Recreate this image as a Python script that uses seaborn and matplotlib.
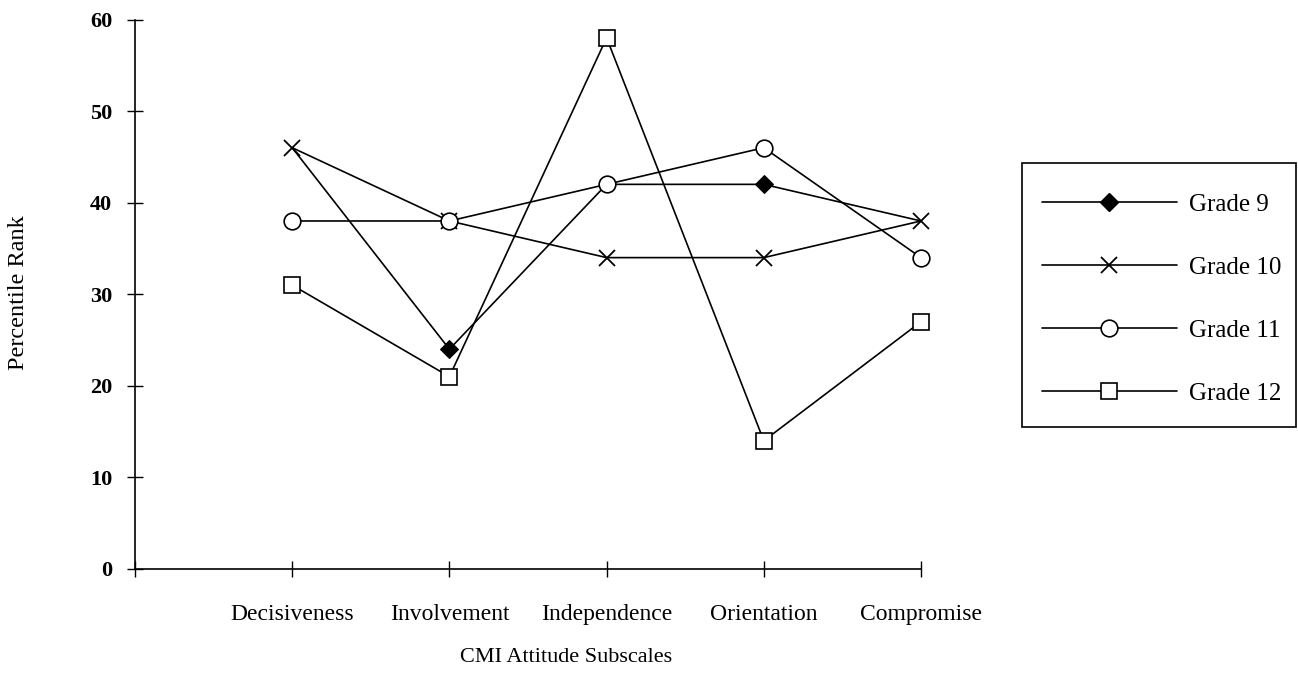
import numpy as np
import pandas as pd
import matplotlib
matplotlib.use("Agg")
import matplotlib.pyplot as plt
from matplotlib.lines import Line2D
from matplotlib.patches import Rectangle
import seaborn as sns

categories = ["Decisiveness", "Involvement", "Independence", "Orientation", "Compromise"]
grade9 = [46, 24, 42, 42, 38]
grade10 = [46, 38, 34, 34, 38]
grade11 = [38, 38, 42, 46, 34]
grade12 = [31, 21, 58, 14, 27]
series_names = ["Grade 9", "Grade 10", "Grade 11", "Grade 12"]
y_ticks = [0, 10, 20, 30, 40, 50, 60]

sns.set_theme(style="white")
plt.rcParams["font.family"] = ["Liberation Serif", "DejaVu Serif"]

W, H = 1298, 679
fig = plt.figure(figsize=(W / 100, H / 100), dpi=100)
ax = fig.add_axes([135 / W, 1 - 569 / H, (921 - 135) / W, (569 - 19.5) / H])

xpos = np.arange(1, len(categories) + 1)
styles = {
    "Grade 9": dict(marker="D", markersize=9, markerfacecolor="black", markeredgecolor="black", markevery=[1, 3]),
    "Grade 10": dict(marker="x", markersize=12, markeredgewidth=1.3, markeredgecolor="black"),
    "Grade 11": dict(marker="o", markersize=12, markerfacecolor="white", markeredgecolor="black", markeredgewidth=1.2),
    "Grade 12": dict(marker="s", markersize=11, markerfacecolor="white", markeredgecolor="black", markeredgewidth=1.2),
}
data = {"Grade 9": grade9, "Grade 10": grade10, "Grade 11": grade11, "Grade 12": grade12}
for name in series_names:
    df = pd.DataFrame({"x": xpos, "y": data[name]})
    sns.lineplot(data=df, x="x", y="y", ax=ax, color="black", linewidth=1.2,
                 clip_on=False, legend=False, **styles[name])

ax.set_xlim(0, len(categories))
ax.set_ylim(0, 60)
ax.set_xticks(np.arange(0, len(categories) + 1))
ax.set_xticklabels([""] + categories, fontsize=17)
ax.set_yticks(y_ticks)
ax.set_yticklabels([str(v) for v in y_ticks], fontsize=16, fontweight="bold")
ax.tick_params(axis="both", direction="inout", length=11, width=1, color="black", colors="black")
ax.tick_params(axis="x", pad=20)
ax.tick_params(axis="y", pad=11)
ax.tick_params(left=True, bottom=True)
for s in ["top", "right"]:
    ax.spines[s].set_visible(False)
for s in ["left", "bottom"]:
    ax.spines[s].set_color("black")
    ax.spines[s].set_linewidth(1.2)
ax.set_xlabel("")
ax.set_ylabel("")
ax.grid(False)

fig.text(566 / W, 1 - 658 / H, "CMI Attitude Subscales", ha="center", va="center", fontsize=16, color="black")
fig.text(19 / W, 1 - 293 / H, "Percentile Rank", ha="center", va="center", rotation=90, fontsize=17.5, color="black")

# legend frame
fig.patches.append(Rectangle((1022 / W, 1 - 427 / H), (1296 - 1022) / W, (427 - 163) / H,
                             transform=fig.transFigure, fill=False, edgecolor="black", linewidth=1.2))

handles = []
for name in series_names:
    st = dict(styles[name])
    st.pop("markevery", None)
    handles.append(Line2D([], [], color="black", linewidth=1.2, **st))
leg = fig.legend(handles, series_names, loc="upper left",
                 bbox_to_anchor=(1019.5 / W, 1 - 171 / H), bbox_transform=fig.transFigure,
                 borderaxespad=0, fontsize=18, handlelength=5.4, handletextpad=0.5,
                 labelspacing=1.62, borderpad=0.9, frameon=False)
for t in leg.get_texts():
    t.set_color("black")

fig.savefig("out.png", dpi=100, facecolor="white")
